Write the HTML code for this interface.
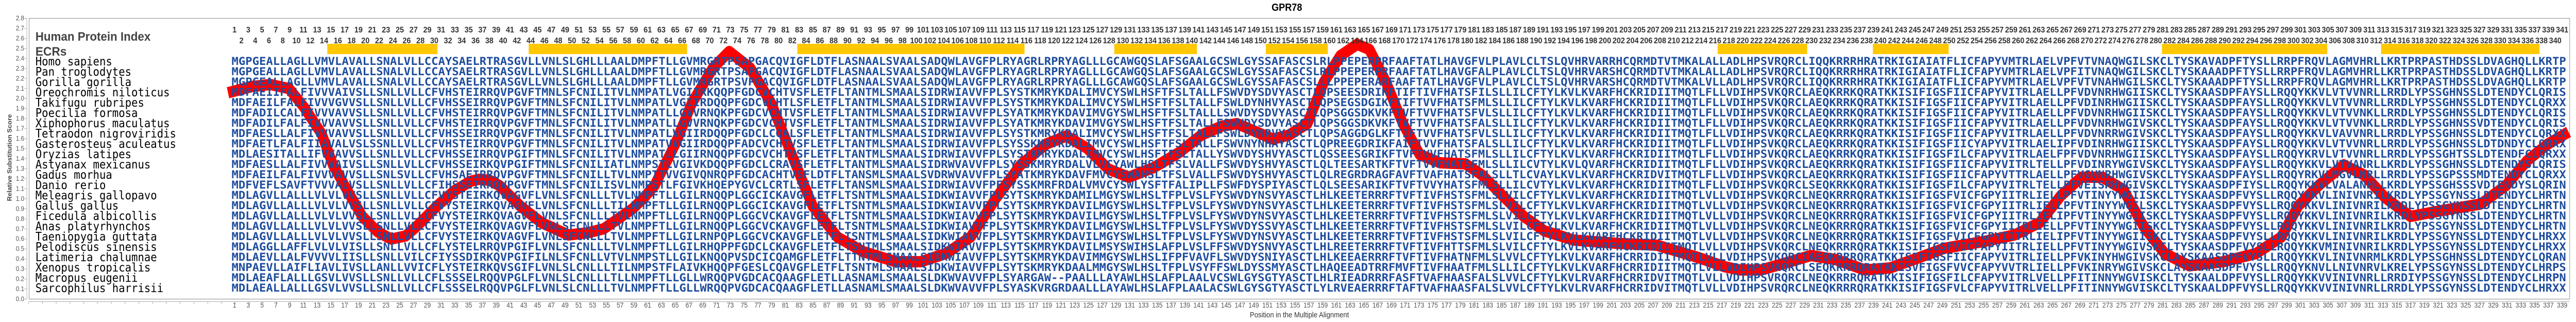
<!DOCTYPE html>
<html><head><meta charset="utf-8"><style>
html,body{margin:0;padding:0;background:#fff;width:100%;height:100%;overflow:hidden;}
svg{position:absolute;left:0;top:0;display:block;}
.tu text,.tl text{font-family:"Liberation Sans",sans-serif;font-weight:bold;font-size:16px;fill:#333;text-anchor:middle;}
.tb text{font-family:"Liberation Sans",sans-serif;font-size:13.5px;fill:#555;text-anchor:middle;}
.yl text{font-family:"Liberation Sans",sans-serif;font-size:13px;fill:#555;text-anchor:end;}
.sq text{font-family:"DejaVu Sans Mono",monospace;font-weight:bold;font-size:21px;fill:#1E4D9E;}
.sp text{font-family:"DejaVu Sans Mono",monospace;font-size:22.8px;fill:#000;}
</style></head><body>
<svg width="100%" height="100%" viewBox="0 0 5525 625" preserveAspectRatio="none">
<rect x="62.5" y="35.5" width="5449" height="545" fill="none" stroke="#888" stroke-width="1"/>
<line x1="57.5" y1="35" x2="57.5" y2="581" stroke="#aaa"/>
<line x1="55" y1="35" x2="55" y2="581" stroke="#aaa" stroke-width="5" stroke-dasharray="1 18.464"/>
<line x1="62" y1="585.5" x2="5511" y2="585.5" stroke="#aaa"/>
<line x1="61" y1="588" x2="5511" y2="588" stroke="#aaa" stroke-width="5" stroke-dasharray="1 28.54"/>
<g fill="#FFC800">
<rect x="702" y="85" width="236.3" height="20"/>
<rect x="1134" y="85" width="339.7" height="20"/>
<rect x="1710" y="85" width="487.4" height="20"/>
<rect x="2390" y="85" width="177.2" height="20"/>
<rect x="2715" y="85" width="132.9" height="20"/>
<rect x="3684" y="85" width="192" height="20"/>
<rect x="4017" y="85" width="162.5" height="20"/>
<rect x="4637" y="85" width="354.5" height="20"/>
<rect x="5107" y="85" width="339.7" height="20"/>
</g>
<polyline fill="none" stroke="#FF0000" stroke-width="22" stroke-linejoin="round" stroke-linecap="butt" points="489,180 540,168 580,164 620,172 652,208 690,260 714,320 745,370 777,420 810,450 839,464 870,458 893,440 937,400 975,370 1009,352 1027,348 1050,350 1071,360 1116,400 1161,432 1219,456 1260,452 1295,444 1357,405 1380,385 1404,360 1448,280 1484,200 1529,132 1564,100 1609,132 1654,200 1698,300 1743,400 1796,460 1850,488 1921,508 1975,508 2029,492 2082,460 2136,385 2189,320 2243,280 2287,264 2332,288 2377,328 2421,344 2475,325 2529,296 2577,262 2620,245 2653,240 2692,255 2730,270 2765,262 2804,240 2839,160 2875,108 2911,86 2937,96 2973,160 3009,240 3045,300 3089,316 3143,318 3179,340 3223,380 3268,420 3312,448 3375,466 3464,472 3554,476 3643,500 3700,518 3732,524 3777,524 3839,508 3884,496 3938,504 4000,524 4054,520 4116,500 4170,482 4259,468 4321,456 4375,432 4420,380 4464,344 4509,344 4554,368 4598,440 4643,492 4696,516 4768,508 4839,492 4893,460 4929,400 4973,360 5027,320 5071,340 5116,384 5170,420 5241,408 5321,396 5375,360 5420,312 5464,280 5509,256"/>
<text x="2760" y="21" text-anchor="middle" font-family="Liberation Sans" font-weight="bold" font-size="20" fill="#000">GPR78</text>
<text x="2787" y="616" text-anchor="middle" font-family="Liberation Sans" font-size="14.5" fill="#333">Position in the Multiple Alignment</text>
<text transform="translate(25,306) rotate(-90)" text-anchor="middle" font-family="Liberation Sans" font-weight="bold" font-size="13" fill="#444">Relative Substitution Score</text>
<text x="76" y="79" font-family="Liberation Sans" font-weight="bold" font-size="24" fill="#444" textLength="247" lengthAdjust="spacingAndGlyphs">Human Protein Index</text>
<text x="76" y="108" font-family="Liberation Sans" font-weight="bold" font-size="24" fill="#444" textLength="67" lengthAdjust="spacingAndGlyphs">ECRs</text>

<g class="yl">
<text x="52" y="584.5">0.0</text><text x="52" y="565.0">0.1</text><text x="52" y="545.6">0.2</text><text x="52" y="526.1">0.3</text><text x="52" y="506.6">0.4</text><text x="52" y="487.2">0.5</text><text x="52" y="467.7">0.6</text><text x="52" y="448.3">0.7</text><text x="52" y="428.8">0.8</text><text x="52" y="409.3">0.9</text><text x="52" y="389.9">1.0</text><text x="52" y="370.4">1.1</text><text x="52" y="350.9">1.2</text><text x="52" y="331.5">1.3</text><text x="52" y="312.0">1.4</text><text x="52" y="292.5">1.5</text><text x="52" y="273.1">1.6</text><text x="52" y="253.6">1.7</text><text x="52" y="234.2">1.8</text><text x="52" y="214.7">1.9</text><text x="52" y="195.2">2.0</text><text x="52" y="175.8">2.1</text><text x="52" y="156.3">2.2</text><text x="52" y="136.8">2.3</text><text x="52" y="117.4">2.4</text><text x="52" y="97.9">2.5</text><text x="52" y="78.4">2.6</text><text x="52" y="59.0">2.7</text><text x="52" y="39.5">2.8</text>
</g>

<g class="tu">
<g transform="translate(503,63)"><text x="0">1</text><text x="29.5">3</text><text x="59.1">5</text><text x="88.6">7</text><text x="118.2">9</text><text x="147.7">11</text><text x="177.2">13</text><text x="206.8">15</text><text x="236.3">17</text><text x="265.9">19</text></g>
<g transform="translate(798.4,63)"><text x="0">21</text><text x="29.5">23</text><text x="59.1">25</text><text x="88.6">27</text><text x="118.2">29</text><text x="147.7">31</text><text x="177.2">33</text><text x="206.8">35</text><text x="236.3">37</text><text x="265.9">39</text></g>
<g transform="translate(1093.8,63)"><text x="0">41</text><text x="29.5">43</text><text x="59.1">45</text><text x="88.6">47</text><text x="118.2">49</text><text x="147.7">51</text><text x="177.2">53</text><text x="206.8">55</text><text x="236.3">57</text><text x="265.9">59</text></g>
<g transform="translate(1389.2,63)"><text x="0">61</text><text x="29.5">63</text><text x="59.1">65</text><text x="88.6">67</text><text x="118.2">69</text><text x="147.7">71</text><text x="177.2">73</text><text x="206.8">75</text><text x="236.3">77</text><text x="265.9">79</text></g>
<g transform="translate(1684.6,63)"><text x="0">81</text><text x="29.5">83</text><text x="59.1">85</text><text x="88.6">87</text><text x="118.2">89</text><text x="147.7">91</text><text x="177.2">93</text><text x="206.8">95</text><text x="236.3">97</text><text x="265.9">99</text></g>
<g transform="translate(1980,63)"><text x="0">101</text><text x="29.5">103</text><text x="59.1">105</text><text x="88.6">107</text><text x="118.2">109</text><text x="147.7">111</text><text x="177.2">113</text><text x="206.8">115</text><text x="236.3">117</text><text x="265.9">119</text></g>
<g transform="translate(2275.4,63)"><text x="0">121</text><text x="29.5">123</text><text x="59.1">125</text><text x="88.6">127</text><text x="118.2">129</text><text x="147.7">131</text><text x="177.2">133</text><text x="206.8">135</text><text x="236.3">137</text><text x="265.9">139</text></g>
<g transform="translate(2570.8,63)"><text x="0">141</text><text x="29.5">143</text><text x="59.1">145</text><text x="88.6">147</text><text x="118.2">149</text><text x="147.7">151</text><text x="177.2">153</text><text x="206.8">155</text><text x="236.3">157</text><text x="265.9">159</text></g>
<g transform="translate(2866.2,63)"><text x="0">161</text><text x="29.5">163</text><text x="59.1">165</text><text x="88.6">167</text><text x="118.2">169</text><text x="147.7">171</text><text x="177.2">173</text><text x="206.8">175</text><text x="236.3">177</text><text x="265.9">179</text></g>
<g transform="translate(3161.6,63)"><text x="0">181</text><text x="29.5">183</text><text x="59.1">185</text><text x="88.6">187</text><text x="118.2">189</text><text x="147.7">191</text><text x="177.2">193</text><text x="206.8">195</text><text x="236.3">197</text><text x="265.9">199</text></g>
<g transform="translate(3457,63)"><text x="0">201</text><text x="29.5">203</text><text x="59.1">205</text><text x="88.6">207</text><text x="118.2">209</text><text x="147.7">211</text><text x="177.2">213</text><text x="206.8">215</text><text x="236.3">217</text><text x="265.9">219</text></g>
<g transform="translate(3752.4,63)"><text x="0">221</text><text x="29.5">223</text><text x="59.1">225</text><text x="88.6">227</text><text x="118.2">229</text><text x="147.7">231</text><text x="177.2">233</text><text x="206.8">235</text><text x="236.3">237</text><text x="265.9">239</text></g>
<g transform="translate(4047.8,63)"><text x="0">241</text><text x="29.5">243</text><text x="59.1">245</text><text x="88.6">247</text><text x="118.2">249</text><text x="147.7">251</text><text x="177.2">253</text><text x="206.8">255</text><text x="236.3">257</text><text x="265.9">259</text></g>
<g transform="translate(4343.2,63)"><text x="0">261</text><text x="29.5">263</text><text x="59.1">265</text><text x="88.6">267</text><text x="118.2">269</text><text x="147.7">271</text><text x="177.2">273</text><text x="206.8">275</text><text x="236.3">277</text><text x="265.9">279</text></g>
<g transform="translate(4638.6,63)"><text x="0">281</text><text x="29.5">283</text><text x="59.1">285</text><text x="88.6">287</text><text x="118.2">289</text><text x="147.7">291</text><text x="177.2">293</text><text x="206.8">295</text><text x="236.3">297</text><text x="265.9">299</text></g>
<g transform="translate(4934,63)"><text x="0">301</text><text x="29.5">303</text><text x="59.1">305</text><text x="88.6">307</text><text x="118.2">309</text><text x="147.7">311</text><text x="177.2">313</text><text x="206.8">315</text><text x="236.3">317</text><text x="265.9">319</text></g>
<g transform="translate(5229.4,63)"><text x="0">321</text><text x="29.5">323</text><text x="59.1">325</text><text x="88.6">327</text><text x="118.2">329</text><text x="147.7">331</text><text x="177.2">335</text><text x="206.8">337</text><text x="236.3">339</text><text x="265.9">341</text></g>
</g>

<g class="tl">
<g transform="translate(517.8,84)"><text x="0">2</text><text x="29.5">4</text><text x="59.1">6</text><text x="88.6">8</text><text x="118.2">10</text><text x="147.7">12</text><text x="177.2">14</text><text x="206.8">16</text><text x="236.3">18</text><text x="265.9">20</text></g>
<g transform="translate(813.2,84)"><text x="0">22</text><text x="29.5">24</text><text x="59.1">26</text><text x="88.6">28</text><text x="118.2">30</text><text x="147.7">32</text><text x="177.2">34</text><text x="206.8">36</text><text x="236.3">38</text><text x="265.9">40</text></g>
<g transform="translate(1108.6,84)"><text x="0">42</text><text x="29.5">44</text><text x="59.1">46</text><text x="88.6">48</text><text x="118.2">50</text><text x="147.7">52</text><text x="177.2">54</text><text x="206.8">56</text><text x="236.3">58</text><text x="265.9">60</text></g>
<g transform="translate(1404,84)"><text x="0">62</text><text x="29.5">64</text><text x="59.1">66</text><text x="88.6">68</text><text x="118.2">70</text><text x="147.7">72</text><text x="177.2">74</text><text x="206.8">76</text><text x="236.3">78</text><text x="265.9">80</text></g>
<g transform="translate(1699.4,84)"><text x="0">82</text><text x="29.5">84</text><text x="59.1">86</text><text x="88.6">88</text><text x="118.2">90</text><text x="147.7">92</text><text x="177.2">94</text><text x="206.8">96</text><text x="236.3">98</text><text x="265.9">100</text></g>
<g transform="translate(1994.8,84)"><text x="0">102</text><text x="29.5">104</text><text x="59.1">106</text><text x="88.6">108</text><text x="118.2">110</text><text x="147.7">112</text><text x="177.2">114</text><text x="206.8">116</text><text x="236.3">118</text><text x="265.9">120</text></g>
<g transform="translate(2290.2,84)"><text x="0">122</text><text x="29.5">124</text><text x="59.1">126</text><text x="88.6">128</text><text x="118.2">130</text><text x="147.7">132</text><text x="177.2">134</text><text x="206.8">136</text><text x="236.3">138</text><text x="265.9">140</text></g>
<g transform="translate(2585.6,84)"><text x="0">142</text><text x="29.5">144</text><text x="59.1">146</text><text x="88.6">148</text><text x="118.2">150</text><text x="147.7">152</text><text x="177.2">154</text><text x="206.8">156</text><text x="236.3">158</text><text x="265.9">160</text></g>
<g transform="translate(2881,84)"><text x="0">162</text><text x="29.5">164</text><text x="59.1">166</text><text x="88.6">168</text><text x="118.2">170</text><text x="147.7">172</text><text x="177.2">174</text><text x="206.8">176</text><text x="236.3">178</text><text x="265.9">180</text></g>
<g transform="translate(3176.4,84)"><text x="0">182</text><text x="29.5">184</text><text x="59.1">186</text><text x="88.6">188</text><text x="118.2">190</text><text x="147.7">192</text><text x="177.2">194</text><text x="206.8">196</text><text x="236.3">198</text><text x="265.9">200</text></g>
<g transform="translate(3471.8,84)"><text x="0">202</text><text x="29.5">204</text><text x="59.1">206</text><text x="88.6">208</text><text x="118.2">210</text><text x="147.7">212</text><text x="177.2">214</text><text x="206.8">216</text><text x="236.3">218</text><text x="265.9">220</text></g>
<g transform="translate(3767.2,84)"><text x="0">222</text><text x="29.5">224</text><text x="59.1">226</text><text x="88.6">228</text><text x="118.2">230</text><text x="147.7">232</text><text x="177.2">234</text><text x="206.8">236</text><text x="236.3">238</text><text x="265.9">240</text></g>
<g transform="translate(4062.6,84)"><text x="0">242</text><text x="29.5">244</text><text x="59.1">246</text><text x="88.6">248</text><text x="118.2">250</text><text x="147.7">252</text><text x="177.2">254</text><text x="206.8">256</text><text x="236.3">258</text><text x="265.9">260</text></g>
<g transform="translate(4358,84)"><text x="0">262</text><text x="29.5">264</text><text x="59.1">266</text><text x="88.6">268</text><text x="118.2">270</text><text x="147.7">272</text><text x="177.2">274</text><text x="206.8">276</text><text x="236.3">278</text><text x="265.9">280</text></g>
<g transform="translate(4653.4,84)"><text x="0">282</text><text x="29.5">284</text><text x="59.1">286</text><text x="88.6">288</text><text x="118.2">290</text><text x="147.7">292</text><text x="177.2">294</text><text x="206.8">296</text><text x="236.3">298</text><text x="265.9">300</text></g>
<g transform="translate(4948.8,84)"><text x="0">302</text><text x="29.5">304</text><text x="59.1">306</text><text x="88.6">308</text><text x="118.2">310</text><text x="147.7">312</text><text x="177.2">314</text><text x="206.8">316</text><text x="236.3">318</text><text x="265.9">320</text></g>
<g transform="translate(5244.2,84)"><text x="0">322</text><text x="29.5">324</text><text x="59.1">326</text><text x="88.6">328</text><text x="118.2">330</text><text x="147.7">334</text><text x="177.2">336</text><text x="206.8">338</text><text x="236.3">340</text></g>
</g>

<g class="tb">
<g transform="translate(503,597)"><text x="0">1</text><text x="29.5">3</text><text x="59.1">5</text><text x="88.6">7</text><text x="118.2">9</text><text x="147.7">11</text><text x="177.2">13</text><text x="206.8">15</text><text x="236.3">17</text><text x="265.9">19</text></g>
<g transform="translate(798.4,597)"><text x="0">21</text><text x="29.5">23</text><text x="59.1">25</text><text x="88.6">27</text><text x="118.2">29</text><text x="147.7">31</text><text x="177.2">33</text><text x="206.8">35</text><text x="236.3">37</text><text x="265.9">39</text></g>
<g transform="translate(1093.8,597)"><text x="0">41</text><text x="29.5">43</text><text x="59.1">45</text><text x="88.6">47</text><text x="118.2">49</text><text x="147.7">51</text><text x="177.2">53</text><text x="206.8">55</text><text x="236.3">57</text><text x="265.9">59</text></g>
<g transform="translate(1389.2,597)"><text x="0">61</text><text x="29.5">63</text><text x="59.1">65</text><text x="88.6">67</text><text x="118.2">69</text><text x="147.7">71</text><text x="177.2">73</text><text x="206.8">75</text><text x="236.3">77</text><text x="265.9">79</text></g>
<g transform="translate(1684.6,597)"><text x="0">81</text><text x="29.5">83</text><text x="59.1">85</text><text x="88.6">87</text><text x="118.2">89</text><text x="147.7">91</text><text x="177.2">93</text><text x="206.8">95</text><text x="236.3">97</text><text x="265.9">99</text></g>
<g transform="translate(1980,597)"><text x="0">101</text><text x="29.5">103</text><text x="59.1">105</text><text x="88.6">107</text><text x="118.2">109</text><text x="147.7">111</text><text x="177.2">113</text><text x="206.8">115</text><text x="236.3">117</text><text x="265.9">119</text></g>
<g transform="translate(2275.4,597)"><text x="0">121</text><text x="29.5">123</text><text x="59.1">125</text><text x="88.6">127</text><text x="118.2">129</text><text x="147.7">131</text><text x="177.2">133</text><text x="206.8">135</text><text x="236.3">137</text><text x="265.9">139</text></g>
<g transform="translate(2570.8,597)"><text x="0">141</text><text x="29.5">143</text><text x="59.1">145</text><text x="88.6">147</text><text x="118.2">149</text><text x="147.7">151</text><text x="177.2">153</text><text x="206.8">155</text><text x="236.3">157</text><text x="265.9">159</text></g>
<g transform="translate(2866.2,597)"><text x="0">161</text><text x="29.5">163</text><text x="59.1">165</text><text x="88.6">167</text><text x="118.2">169</text><text x="147.7">171</text><text x="177.2">173</text><text x="206.8">175</text><text x="236.3">177</text><text x="265.9">179</text></g>
<g transform="translate(3161.6,597)"><text x="0">181</text><text x="29.5">183</text><text x="59.1">185</text><text x="88.6">187</text><text x="118.2">189</text><text x="147.7">191</text><text x="177.2">193</text><text x="206.8">195</text><text x="236.3">197</text><text x="265.9">199</text></g>
<g transform="translate(3457,597)"><text x="0">201</text><text x="29.5">203</text><text x="59.1">205</text><text x="88.6">207</text><text x="118.2">209</text><text x="147.7">211</text><text x="177.2">213</text><text x="206.8">215</text><text x="236.3">217</text><text x="265.9">219</text></g>
<g transform="translate(3752.4,597)"><text x="0">221</text><text x="29.5">223</text><text x="59.1">225</text><text x="88.6">227</text><text x="118.2">229</text><text x="147.7">231</text><text x="177.2">233</text><text x="206.8">235</text><text x="236.3">237</text><text x="265.9">239</text></g>
<g transform="translate(4047.8,597)"><text x="0">241</text><text x="29.5">243</text><text x="59.1">245</text><text x="88.6">247</text><text x="118.2">249</text><text x="147.7">251</text><text x="177.2">253</text><text x="206.8">255</text><text x="236.3">257</text><text x="265.9">259</text></g>
<g transform="translate(4343.2,597)"><text x="0">261</text><text x="29.5">263</text><text x="59.1">265</text><text x="88.6">267</text><text x="118.2">269</text><text x="147.7">271</text><text x="177.2">273</text><text x="206.8">275</text><text x="236.3">277</text><text x="265.9">279</text></g>
<g transform="translate(4638.6,597)"><text x="0">281</text><text x="29.5">283</text><text x="59.1">285</text><text x="88.6">287</text><text x="118.2">289</text><text x="147.7">291</text><text x="177.2">293</text><text x="206.8">295</text><text x="236.3">297</text><text x="265.9">299</text></g>
<g transform="translate(4934,597)"><text x="0">301</text><text x="29.5">303</text><text x="59.1">305</text><text x="88.6">307</text><text x="118.2">309</text><text x="147.7">311</text><text x="177.2">313</text><text x="206.8">315</text><text x="236.3">317</text><text x="265.9">319</text></g>
<g transform="translate(5229.4,597)"><text x="0">321</text><text x="29.5">323</text><text x="59.1">325</text><text x="88.6">327</text><text x="118.2">329</text><text x="147.7">331</text><text x="177.2">333</text><text x="206.8">335</text><text x="236.3">337</text><text x="265.9">339</text></g>
</g>

<g class="sp">
<text x="76" y="126.8">Homo sapiens</text>
<text x="76" y="146.8">Pan troglodytes</text>
<text x="76" y="166.8">Gorilla gorilla</text>
<text x="76" y="186.8">Oreochromis niloticus</text>
<text x="76" y="206.8">Takifugu rubripes</text>
<text x="76" y="226.8">Poecilia formosa</text>
<text x="76" y="246.8">Xiphophorus maculatus</text>
<text x="76" y="266.8">Tetraodon nigroviridis</text>
<text x="76" y="286.8">Gasterosteus aculeatus</text>
<text x="76" y="306.8">Oryzias latipes</text>
<text x="76" y="326.8">Astyanax mexicanus</text>
<text x="76" y="346.8">Gadus morhua</text>
<text x="76" y="366.8">Danio rerio</text>
<text x="76" y="386.8">Meleagris gallopavo</text>
<text x="76" y="406.8">Gallus gallus</text>
<text x="76" y="426.8">Ficedula albicollis</text>
<text x="76" y="446.8">Anas platyrhynchos</text>
<text x="76" y="466.8">Taeniopygia guttata</text>
<text x="76" y="486.8">Pelodiscus sinensis</text>
<text x="76" y="506.8">Latimeria chalumnae</text>
<text x="76" y="526.8">Xenopus tropicalis</text>
<text x="76" y="546.8">Macropus eugenii</text>
<text x="76" y="566.8">Sarcophilus harrisii</text>
</g>

<g class="sq">
<text x="496.7" y="126.1" textLength="5007" lengthAdjust="spacingAndGlyphs">MGPGEALLAGLLVMVLAVALLSNALVLLCCAYSAELRTRASGVLLVNLSLGHLLLAALDMPFTLLGVMRGRTPSAPGACQVIGFLDTFLASNAALSVAALSADQWLAVGFPLRYAGRLRPRYAGLLLGCAWGQSLAFSGAALGCSWLGYSSAFASCSLRLPPEPERPRFAAFTATLHAVGFVLPLAVLCLTSLQVHRVARRHCQRMDTVTMKALALLADLHPSVRQRCLIQQKRRRHRATRKIGIAIATFLICFAPYVMTRLAELVPFVTVNAQWGILSKCLTYSKAVADPFTYSLLRRPFRQVLAGMVHRLLKRTPRPASTHDSSLDVAGHQLLKRTP</text>
<text x="496.7" y="146.1" textLength="5007" lengthAdjust="spacingAndGlyphs">MGPGEALLAGLLVMVLAVALLSNALVLLCCAYSAELRTRASGVLLVNLSLGHLLLAALDMPFTLLGVMRGRTPSAPGACQVIGFLDTFLASNAALSVAALSADQWLAVGFPLRYAGRLRPRYAGLLLGCAWGQSLAFSGAALGCSWLGYSSAFASCSLRLPPEPERPRFAAFTATLHAVGFALPLAVLCLTSLQVHRVARSHCQRMDTVTMKALALLADLHPSVRQRCLIQQKRRRHRATRKIGIAIATFLICFAPYVMTRLAELVPFITVNAQWGILSKCLTYSKAAADPFTYSLLRRPFRQVLAGMVHRLLKRTPRPASTHDSSLDVAGHQLLKRTP</text>
<text x="496.7" y="166.1" textLength="5007" lengthAdjust="spacingAndGlyphs">MGPGEALLAGLLVMVLAVALLSNALVLLCCAYSAELRTRASGVLLVNLSLGHLLLAALDMPFTLLGVMRGRTPSVPGACQVIGFLDTFLASNAALSVAALSADQWLAVGFPLRYAGRLRPRYAGLLLGCAWGQSLAFSGAALGCSWLGYSSAFASCSLLLPPEPERARFAAFTATLHAVGFVLPLAVLCLTSLQVHRVARSHCQRMDTVTMKALVLLADLHPSVRQRCLIQQKRRRHRATKKIGIAIATFLICFAPYVMTRLAELVPFVTVNAHWGILSKCLTYSKAAADPFTYSLLRRPFRQVLAGMVHRLLKRTPRPASTHDSSLDVAGHQLLKRTP</text>
<text x="496.7" y="186.1" textLength="5007" lengthAdjust="spacingAndGlyphs">MDFAEIIFALFIVVVAIVSLLSNLLVLLCFVHSTEIRRQVPGVFTMNLSFCNILITVLNMPATLVGIIRKQQPFGDCVCHTVSFLETFLTANTMLSMAALSIDRWIAVVFPLSYSTKMRYKDALIMVCYSWLHSFTFSLTALLFSWVDYSDVYASCTLQPSEESDRIKFTIFTIVFHATSFILSLLILCFTYLKVLKVARFHCKRIDIITMQTLFLLVDIHPSVKQRCLAEQKRRKQRATKKISIFIGSFIICFAPYVITRLAELLPFVDVNRHWGIISKCLTYSKAASDPFAYSLLRQQYKKVLVTVVNRLLRRDLYPSSGHNSSLDTENDYCLQRIS</text>
<text x="496.7" y="206.1" textLength="5007" lengthAdjust="spacingAndGlyphs">MDFAEILFALFIVVVGVVSLLSNLLVLLCFVHSSEIRRQVPGVFTMNLSFCNILITVLNMPATLVGIIRDQQPFGDCVCHTLSFLETFLTANTMLSMAALSIDRWIAVVFPLSYSTKMRYKDALIMVCYSWLHSFTFSLTALLFSWLDYNHVYASCTLQPSEGSDGIKFTIFTVVFHATSFMLSLLILCFTYLKVLKVARFHCKRIDIITMQTLFLLVDIHPSVKQRCLAEQKRRKQRATKKISIFIGSFIICFAPYVITRLAELLPFVDINRHWGIISKCLTYSKAASDPFAYSLLRQQYKKVLVTVVNRLLRRDLYPSSGHNSSLDTENDYCLQRXX</text>
<text x="496.7" y="226.1" textLength="5007" lengthAdjust="spacingAndGlyphs">MDFADILCALFIVVVAVVSLLSNLLVLLCFVHSTEIRRQVPGVFTMNLSFCNILITVLNMPATLLGVVRNQKPFGDCVCHTVSFLETFLTANTMLSMAALSIDRWIAVVFPLSYATKMRYKDAVIMVGYSWLHSFTFSLTALLLSWVDYSDVYASCTLQPSGGSDKVKFTVFTVVFHATSFVLSLLILCFTYLKVLKVARFHCKRIDIITMQTLFLLVDIHPSVKQRCLAEQKRRKQRATKKISIFIGSFIICFAPYVITRLAELLPFVDVNRHWGIISKCLTYSKAASDPFAYSLLRQQYKKVLVTVVNKLLRRDLYPSSGHNSSLDTENDYCLQRIS</text>
<text x="496.7" y="246.1" textLength="5007" lengthAdjust="spacingAndGlyphs">MDFADILFALFIVVVAVVSLLSNLLVLLCFVHSTEIRRQVPGVFTMNLSFCNILITVLNMPATLLGVVRNQKPFGDCVCHTVSFLETFLTANTMLSMAALSIDRWIAVVFPLSYATKMRYKDAVIMVGYSWLHSFTFSLTALLFSWVDYSDVYASCTLQPSGGSDKVKFTVFTVVFHATSFALSLLILCFTYLKVLKVARFHCKRIDIITMQTLFLLVDIHPSVKQRCLAEQKRRKQRATKKISIFIGSFIICFAPYVITRLAELLPFVDVNRHWGIVSKCLTYSKAASDPFAYSLLRQQYKKVLVTVVNKLLRRDLYPSSGHNSSVDTENDYCLQRIS</text>
<text x="496.7" y="266.1" textLength="5007" lengthAdjust="spacingAndGlyphs">MDFAESLLALFIVVVAVVSLLSNLLVLLCFVHSSEIRRQVPGVFTMNLSFCNILITVLNMPATLVGIIRDQQPFGDCLCQALSFLETFLTANTMLSMAALSIDRWIAVVFPLSYSTKMRYKDALIMVCYSWLHSFTFSLTALLFSWLDYNRVYASCTLQPSAGGDGLKFTIFTVVFHATSFVLSLLILCFTYLKVLKVARFHCKRIDIITMQTLFLLVDIHPSVKQRCLAEQKRRKQRATKKISIFIGSFIICFAPYVITRLAELLPFVDVNRRWGIVSKCLTYSKAASDPFAYSLLRQQYKKVLVAVVNRLLRRDLYPSSGHNSSLDTENDYCLQRXX</text>
<text x="496.7" y="286.1" textLength="5007" lengthAdjust="spacingAndGlyphs">MDFAETLFALFIIAVALVSLSSNLLVLLCFVHSTEIRRQVPGVFTMNLSFCNILITVLNMPATVVGIIRDQQPFADCVCHTVSFLETFLTANTMLSMAALSIDRWIAVVFPLSYSSKMRYKDALIMVCYSWLHSFTFSLTALLFSWVNYNHAYASCTLQPREEGDRIKFAIFTVVFHATSFALSLLILCFTYLKVLKVARFHCKRIDIITMQTLFLLVDIHPSVKQRCLAEQKRRKQRATKKISIFIGSFIICYAPYVITRLAELIPFVDINRHWGIISKCLTYSKAASDPFAYSLLRQQYKKVLVTVVNRLLRRDLYPSSGHNSSLDTDNDYCLQRXX</text>
<text x="496.7" y="306.1" textLength="5007" lengthAdjust="spacingAndGlyphs">MDLAESITALLIFVVAVVSLLSNLLVLLCFVHSSEIRRQVPGIFTMNLSFCNILITVLNMPATLLGIIRNQQPFGDCVCHTVSFLETFLTANTMLSMAALSIDRWIAVVFPLSYSTKMRYKDALIMVCYSWLHSFTFSLTALLYSWVDYSHVYASCTLQSSEESGRIKFTVFTVVFHATSFMLSLLILCFTYLKVLKVARFHCKRIDIITMQTLFLLVDIHPSVKQRCLAEQKRRKQRATKKISIFIGSFILCFAPYVITRLAELFPFVDVNRHWGIISKCLTYSKAASDPFAYSLLRQQYKRVLVTVVNRLLRRDLYPSSGHTSSLDTENDFCLQRXX</text>
<text x="496.7" y="326.1" textLength="5007" lengthAdjust="spacingAndGlyphs">MDFAESLLALFIVVVAIVSLLSNLLVLLCFVHSSEIRKQVPGIFTMNLSFCNILIATLNMPSTLVGIVKDQQPFGDCLCRAVSFLETFLTANTMLSMAALSIDRWVAVVFPLSYSSKMRYRDALVLVCYAWLHSLTFSLVALLFSWVDYSHVYASCTLQLTEESARTKFTVFTVVFHATSFMLSLLILCVTYLKVLQVARFHCKRIDIITMQTLFLLVDIHPSVKQRCLAEQKRRKQRATKKISIFIGSFIICFAPYVITRLTELLPFVDINRYWGIVSKCLTYSKAASDPFAYSLLRQQYKKVLVTVANRLLKRDLYPSSGHNSSLDTENDYSLQRIS</text>
<text x="496.7" y="346.1" textLength="5007" lengthAdjust="spacingAndGlyphs">MDFAEILFALFIVVVAVVSLLSNLSVLLCFVHSAEIRRQVPGVFTMNLSFCNILLTVLNMPTTVVGIVQNRQPFGDCACHTVSFLDTFLTANSMLSMAALSVDRWVAVVFPLSYATKMRYKDAVFMVCYSWAHSLTFSLVALLFSWVDYSHVYASCTLQLREGRDRAGFAVFTVAFHATSFALSLLTLCVAYLKVLKVARFHCKRIDVITMQTLFLLVDIHPSVKQRCLAEQKRRKQRATKKISIFIGSFIICFAPYVTTRLAELLPFVGVNRHWGIVSKCLTYSKAASDPFAYSLLRQQYRKVLMGVLNRLLRRDLYPSSGPSSSMDTENDYCLQRXX</text>
<text x="496.7" y="366.1" textLength="5007" lengthAdjust="spacingAndGlyphs">MDFVEFLSAVFTVVVAIVSLLSNLLVLLCFIHSSEIRRQVPGVFTMNLSFCNILISVLNMPSTLFGIVKHQEPYGVCLCRTLSFLETFLTANSMLSMAALSIDRWIAVVFPFSYSSKMRFRDALVMVCYSWLYSFTFALIPLLFSWFDYSPIYASCTLQLSEESARIKFTVFTVVYHATSFMLSLLILCVTYLKVLKVARFHCKRIDIITMQTLFLLVDIHPSVKQRCLSEQKRKKQRATKKISIFIGSFILCFAPYVITRLTELLPFVEISRHWGIVSKCLTYSKAASDPFIYSLLRQQYKKVLVALANHLLKRDLYPSSGHSSSVDTENDYSLQRIN</text>
<text x="496.7" y="386.1" textLength="5007" lengthAdjust="spacingAndGlyphs">MDLAGVLLALLLVLVLVVSLLSNLLVLLCFVYSTEIRKQVAGVFLVNLSFCNLLLTVLNMPFTLLGILRNQQPLGGCICKAVGFLETFLTSNTMLSMAALSIDKWIAVVFPLSYTSKMRYKDAMILMGYSWLHSLTFPLVSLFYSWVDYNSVYASCTLHLKEETERRRFTVFTIVFHSTSFMLSLVILCFTYLKVLKVARFHCKRIDIITMQTLVLLVDIHPSVKQRCLNEQKRRRQRATKKISIFIGSFVICFGPYIITRLIELLPFVTINYYWGIISKCLTYSKAASDPFVYSLLRQQYKKVLINIVNRILKRDLYPSSGYNSSLDTENDYCLHRTN</text>
<text x="496.7" y="406.1" textLength="5007" lengthAdjust="spacingAndGlyphs">MDLAGVLLALLLVLVLVVSLLSNLLVLLCFVYSTEIRKQVAGVFLVNLSFCNLLLTILNMPFTLLGILRNQQPLGGCICKAVGFLETFLTSNTMLSMAALSIDKWIAVVFPLSYTSKMRYKDAVILMGYSWLHSLTFPLVSLFYSWVDYNSVYASCTLHLKEETERRRFTVFTIVFHSTSFMLSLVILCFTYLKVLKVARFHCKRIDIITMQTLVLLVDIHPSVKQRCLNEQKRRRQRATKKISIFIGSFVICFGPYIITRLIELLPFVTINYYWGILSKCLTYSKAASDPFVYSLLRQQYKKVLINIVNRILKRDLYPSSGYNSSLDTENDYCLHRTN</text>
<text x="496.7" y="426.1" textLength="5007" lengthAdjust="spacingAndGlyphs">MDLAGVLLALLLVLVLVVSLLSNLLVLLCFVYSTEIRKQVAGVFLVNLSFCNLLLTVLNMPFTLLGILRNQQPLGGCVCKAVGFLETFLTSNTMLSMAALSIDKWIAVVFPLSYTSKMRYKDAVILMGYSWLHSLTFPLVSLFYSWVDYNSVYASCTLHLKEETERRRFTVFTIVFHSTSFMLSLVILCFTYLKVLKVARFHCKRIDIITMQTLVLLVDIHPSVKQRCLNEQKRRRQRATKKISIFIGSFVICFGPYIITRLIELIPFVTINYYWGIISKCLTYSKAASDPFVYSLLRQQYKKVLINIVNRILKRDLYPSSGYNSSLDTENDYCLHRTN</text>
<text x="496.7" y="446.1" textLength="5007" lengthAdjust="spacingAndGlyphs">MDLAGVLLALLLVLVLVVSLLSNLLVLLCFVYSTEIRKQVAGVFLVNLSFCNLLLTVLNMPFTLLGILRNQQPLGGCVCKAVGFLETFLTSNTMLSMAALSIDKWIAVVFPLSYTSKMRYKDAVILMGYSWLHSLTFPLVSLFYSWVDYSSVYASCTLHLKEETERRRFTVFTIVFHSTSFMLSLVILCFTYLKVLKVARFHCKRIDIITMQTLVLLVDIHPSVKQRCLNEQKRRRQRATKKISIFIGSFVICFGPYIITRLIELLPFVTINYYWGIISKCLTYSKAASDPFVYSLLRQQYKKVLINIVNRILKRDLYPSSGYNSSLDTENDYCLHRTN</text>
<text x="496.7" y="466.1" textLength="5007" lengthAdjust="spacingAndGlyphs">MDLAGVLLALLLVLVLVVSLLSNLLVLLCFVYSTEIRKQVAGVFLVNLSFCNLLLTVLNMPFTLLGILRNPQPLGGCVCKAVGFLETFLTSNTMLSMAALSIDKWIAVVFPLSYTSKMRYKDAVILMGYSWLHSLTFPLVSLFYSWVDYNSVYASCTLHLKEETERRRFTVFTIVFHSTSFMLSLVILCFTYLKVLKVARFHCKRIDIITMQTLVLLVDIHPSVKQRCLNEQKRRRQRATKKISIFIGSFVICFGPYIITRLIELIPFVTINYYWGIISKCLTYSKAASDPFVYSLLRQQYKKVLINIVNRILKRDLYPSSGYNSSLDTENDYCLHRXX</text>
<text x="496.7" y="486.1" textLength="5007" lengthAdjust="spacingAndGlyphs">MDLAGGLLAFFLVLVLVISLLSNLLVLLCFLYSTELRRQVPGIFLVNLSFCNLLLTVLNMPFTLLGILRHQPPFGDCLCKAVGFLETFLTSNTMLSMAALSIDKWIAVVFPLSYTSKMRYKDAVILMSYSWIHSLAFPLVSLFFSWVDYSNVYASCTLHLREETERRRFTVFTIVFHTTSFMLSLVILCFTYLKVLKVARFHCKRIDIITMQTLVLLVDIHPSVKQRCLNEQKRRRQRATKKISIFIGSFVICFAPYIITRLIELLPFVTINYYWGIVSKCLTYSKAASDPFVYSLLRQQYKKVMINIVNRILKRDLYPSSGYNSSLDTENDYCLHRXX</text>
<text x="496.7" y="506.1" textLength="5007" lengthAdjust="spacingAndGlyphs">MDLAEVLLALFVVVVLIISLLSNLLVILCFIYSSDIRKQVPGIFILNLSFCNLLVTVLNMPSTLLGILKNQQPVSDCICQAMGFLETFLTTNTMLSMAALSIDKWIAVVFPLSYTSKMRYKDAVIMMGYSWLHSLIFPFVAVFLSWVDYSNIYASCTLHLKEEAERRRFTVFTIVFHATNFMLSLVVLCFTYLKVLKVARFHCRRIDIITMQTLVLLVDIHPSVKQRCIAEQKRRRQRATKKISIFIGSFIICFAPYVITRLIELLPFVKINYHWGIVSKCLAYSKAASDPFVYSLLRQQYKKVLINIVNRMLKRDLYPSSGHNSSLDTENDYCLQRAN</text>
<text x="496.7" y="526.1" textLength="5007" lengthAdjust="spacingAndGlyphs">MNPAEVLLAIFLIAVLIVSLLANLLVVICFLYSTEIRKQVSGIFLVNLSLCNLLLTILNMPSTFLAIVKHQQPFGESLCQAVGFLETFLTSNTMLSMAALSIDKWIAVVFPLSYTSKMRYKDAALMMGYSWLHSLTFPLVSYFFSWLDYSSMYASCTLHAQEEADTRRFMVFTIVFHAATFMLSLLILCFTYLKVLKVARFHCRRIDIITMQTLVLLVDIHPSVKQRCLSEQKRRRQRATKKISVFIGSFVVCFAPYVVTRLIELLPFVKINRYWGIVSKCLAYSKAASDPFVYSLLRQQYKNVLLNIVNRVLKRELYPSSGYNSSLDTENDYCLHRPS</text>
<text x="496.7" y="546.1" textLength="5007" lengthAdjust="spacingAndGlyphs">MDLAEAFLALLLGSVLVVSLLSNLLVLLCFLSSSELRQQVPGLFLVNLSLCNLLLTLLNMPFTLLGLLWRQQPVGDCACQAAGFLETLLASNAMLSMAALSLDKWVAVVFPLSYARGAW--PAALLLAYAWLHSLAFPLAALVCSWLGYSGTYASCTLHLRIEADRRRFASFTVAFHAASFALSLVVLCFTYLKVLRVARFHCRRIDVITMQTLVLLVDIHPSVRQRCLNEQKRRRQRATKKISIFIGSFILCFAPYVITRLVELLPFITINNYWGVISKCLTYSKAALDPFVYSLLRQQYKKVVINIVNRLLRRDIYPSSGYNSSLDTENDYCLHRPN</text>
<text x="496.7" y="566.1" textLength="5007" lengthAdjust="spacingAndGlyphs">MDLAEALLALLLGSVLVVSLLSNLLVLLCFLSSSELRQQVPGLFLVNLSLCNLLLTVLNMPFTLLGLLWRQQPVGDCACQAAGFLETLLASNAMLSMAALSLDKWVAVVFPLSYASKVRGRDAALLLAYAWLHSLAFPLAALACSWLGYSGTYASCTLYLRVEAERRRFTAFTVAFHAASFALSLVVLCFTYLKVLRVARFHCRRIDVITMQTLVLLVDIHPSVRQRCLNEQKRRRQRATKKISIFIGSFVLCFAPYVITRLVELLPFITINNYWGVISKCLTYSKAALDPFVYSLLRQQYKKVVINIVNRLLRRDLYPSSGYNSSLDTENDYCLHRXX</text>
</g>
</svg>
</body></html>
